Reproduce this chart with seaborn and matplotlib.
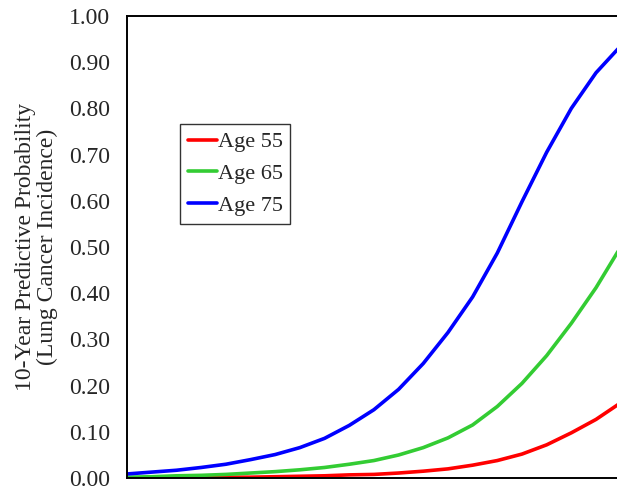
"""
Predicted 10-year lung cancer incidence by age group (cropped chart).
"""

import matplotlib
matplotlib.use("Agg")
import matplotlib.pyplot as plt
import numpy as np
import pandas as pd
import seaborn as sns

# --------------------------------------------------------------------------- #
# Data
# --------------------------------------------------------------------------- #
risk_score = list(range(21))

age_55 = [0.000, 0.000, 0.001, 0.001, 0.002, 0.002, 0.003, 0.004, 0.005, 0.007,
          0.008, 0.011, 0.015, 0.020, 0.028, 0.038, 0.052, 0.072, 0.098, 0.127,
          0.163]
age_65 = [0.002, 0.003, 0.005, 0.006, 0.008, 0.011, 0.014, 0.018, 0.023, 0.030,
          0.038, 0.050, 0.066, 0.087, 0.115, 0.155, 0.205, 0.265, 0.335, 0.412,
          0.500]
age_75 = [0.009, 0.013, 0.017, 0.023, 0.030, 0.040, 0.051, 0.066, 0.086, 0.114,
          0.148, 0.192, 0.248, 0.315, 0.392, 0.487, 0.598, 0.705, 0.800, 0.877,
          0.935]

series_names = ["Age 55", "Age 65", "Age 75"]
series_colors = ["#ff0000", "#33cc33", "#0000ff"]

y_ticks = [0.0, 0.1, 0.2, 0.3, 0.4, 0.5, 0.6, 0.7, 0.8, 0.9, 1.0]

df = pd.DataFrame({
    "x": risk_score * 3,
    "prob": age_55 + age_65 + age_75,
    "Age": np.repeat(series_names, len(risk_score)),
})

# --------------------------------------------------------------------------- #
# Plot
# --------------------------------------------------------------------------- #
sns.set_theme(style="white")
plt.rcParams["font.family"] = ["Liberation Serif", "DejaVu Serif"]

fig = plt.figure(figsize=(6.17, 4.97), dpi=100)
ax = fig.add_axes([0.206, 0.038, 0.80, 0.930])

sns.lineplot(data=df, x="x", y="prob", hue="Age", hue_order=series_names,
             palette=series_colors, linewidth=2.6, ax=ax)
for line in ax.get_lines():
    line.set_solid_joinstyle("round")
    line.set_solid_capstyle("round")

ax.set_xlim(0, 20)
ax.set_ylim(0, 1.0)
ax.set_yticks(y_ticks)
ax.set_yticklabels([f"{v:.2f}" for v in y_ticks], fontsize=17)
ax.set_xticks([])
ax.tick_params(axis="y", length=0, pad=12)
ax.set_xlabel("")
ax.set_ylabel("10-Year Predictive Probability\n(Lung Cancer Incidence)",
              fontsize=17, labelpad=8, linespacing=1.05)

for side in ["left", "top", "bottom"]:
    ax.spines[side].set_color("black")
    ax.spines[side].set_linewidth(1.4)
ax.spines["right"].set_visible(False)

leg = ax.legend(loc="upper left", bbox_to_anchor=(0.107, 0.766),
                fontsize=16, frameon=True, fancybox=False, handlelength=1.3,
                handletextpad=0.05, borderpad=0.35, labelspacing=0.5,
                borderaxespad=0)
leg.get_frame().set_edgecolor("black")
leg.get_frame().set_linewidth(1.0)
for line in leg.get_lines():
    line.set_linewidth(2.6)

fig.savefig("out.png", dpi=100)
